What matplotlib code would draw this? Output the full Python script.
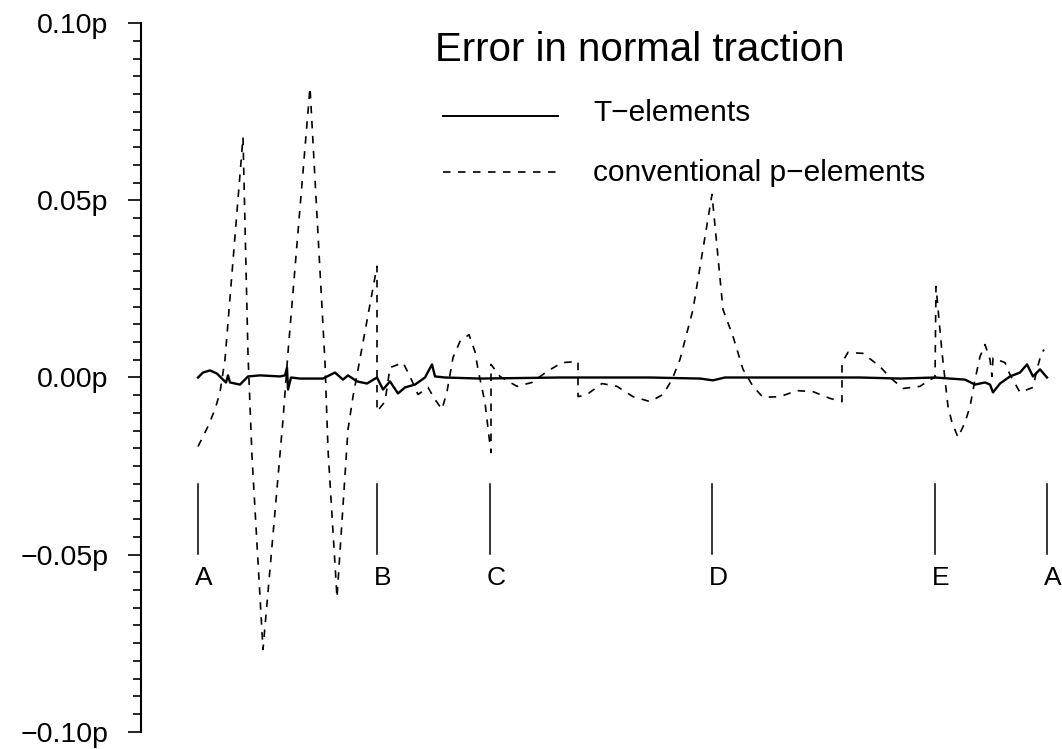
import numpy as np
import matplotlib.pyplot as plt
from matplotlib.ticker import MultipleLocator

plt.rcParams['font.family'] = ['Liberation Sans', 'DejaVu Sans']

# position along the boundary (arbitrary arc-length units, A = 0)
s_conv = [0.00, 0.10, 0.17, 0.22, 0.27, 0.45, 0.50, 0.54, 0.65, 0.85,
          0.90, 1.12, 1.27, 1.30, 1.39, 1.50, 1.55, 1.79, 1.79, 1.87,
          1.92, 2.05, 2.12, 2.20, 2.30, 2.37, 2.44, 2.49, 2.55, 2.62,
          2.71, 2.77, 2.80, 2.87, 2.91, 2.93, 2.93, 3.02, 3.19, 3.34,
          3.49, 3.64, 3.80, 3.80, 3.89, 4.04, 4.19, 4.35, 4.52, 4.65,
          4.74, 4.82, 4.89, 4.95, 5.14, 5.25, 5.35, 5.45, 5.55, 5.65,
          5.82, 5.99, 6.15, 6.32, 6.44, 6.44, 6.50, 6.65, 6.82, 6.92,
          7.05, 7.22, 7.32, 7.37, 7.38, 7.44, 7.47, 7.50, 7.54, 7.60,
          7.67, 7.72, 7.77, 7.82, 7.87, 7.92, 7.94, 7.95, 8.07, 8.12,
          8.22, 8.35, 8.39, 8.43, 8.46]
err_conv = [-0.0195, -0.0138, -0.0090, -0.0042, 0.0051, 0.0678, 0.0065, -0.0223, -0.0768, -0.0119,
            0.0071, 0.0819, 0.0042, -0.0203, -0.0621, -0.0147, -0.0054, 0.0314, -0.0096, -0.0068,
            0.0028, 0.0042, 0.0003, -0.0048, -0.0028, -0.0062, -0.0090, -0.0040, 0.0056, 0.0102,
            0.0121, 0.0073, 0.0023, -0.0071, -0.0167, -0.0212, 0.0037, 0.0003, -0.0025, -0.0014,
            0.0017, 0.0042, 0.0045, -0.0054, -0.0048, -0.0017, -0.0025, -0.0054, -0.0068, -0.0048,
            -0.0006, 0.0051, 0.0127, 0.0192, 0.0517, 0.0192, 0.0116, 0.0023, -0.0025, -0.0056,
            -0.0054, -0.0037, -0.0040, -0.0059, -0.0068, 0.0042, 0.0071, 0.0068, 0.0031, 0.0000,
            -0.0031, -0.0025, -0.0006, 0.0000, 0.0257, 0.0071, -0.0006, -0.0082, -0.0127, -0.0169,
            -0.0127, -0.0082, -0.0006, 0.0059, 0.0093, 0.0051, 0.0003, 0.0055, 0.0042, 0.0008,
            -0.0042, -0.0028, 0.0023, 0.0065, 0.0079]

s_T = [0.00, 0.05, 0.12, 0.19, 0.25, 0.28, 0.30, 0.32, 0.37, 0.42,
       0.50, 0.62, 0.82, 0.87, 0.89, 0.90, 0.93, 1.02, 1.25, 1.37,
       1.45, 1.50, 1.59, 1.69, 1.79, 1.85, 1.92, 2.00, 2.07, 2.17,
       2.27, 2.34, 2.37, 2.47, 2.82, 3.62, 4.52, 5.02, 5.15, 5.27,
       6.02, 6.62, 7.02, 7.37, 7.67, 7.77, 7.87, 7.92, 7.95, 8.02,
       8.12, 8.22, 8.29, 8.35, 8.42, 8.49]
err_T = [0.0000, 0.0014, 0.0020, 0.0011, -0.0006, -0.0014, 0.0006, -0.0014, -0.0017, -0.0020,
         0.0003, 0.0006, 0.0003, 0.0006, 0.0028, -0.0034, 0.0000, -0.0003, -0.0003, 0.0014,
         -0.0006, 0.0006, -0.0011, -0.0017, 0.0000, -0.0034, -0.0011, -0.0045, -0.0028, -0.0020,
         0.0000, 0.0037, 0.0003, 0.0000, -0.0003, 0.0000, 0.0000, -0.0003, -0.0008, 0.0000,
         0.0000, 0.0000, -0.0003, 0.0000, -0.0006, -0.0020, -0.0014, -0.0020, -0.0042, -0.0017,
         0.0003, 0.0014, 0.0037, 0.0003, 0.0023, 0.0000]

corner_names = ['A', 'B', 'C', 'D', 'E', 'A']
corner_pos = [0.00, 1.79, 2.92, 5.14, 7.37, 8.49]

yticks = [-0.10, -0.05, 0.00, 0.05, 0.10]
ytick_labels = ['\u22120.10p', '\u22120.05p', '0.00p', '0.05p', '0.10p']

fig = plt.figure(figsize=(10.62, 7.49), dpi=100)
ax = fig.add_axes([141 / 1062, 17.3 / 749, 921 / 1062, 708.4 / 749])

ax.plot(s_T, err_T, color='black', lw=1.7)
ax.plot(s_conv, err_conv, color='black', lw=1.2, dashes=(4.5, 4.5))

# corner markers
for name, s in zip(corner_names, corner_pos):
    ax.plot([s, s], [-0.030, -0.0497], color='black', lw=1.1)
    ax.text(s - 0.03, -0.0565, name, fontsize=19, ha='left', va='center', clip_on=False)

# title and legend drawn inside the plot
ax.text(2.37, 0.0893, 'Error in normal traction', fontsize=29, ha='left', va='baseline')
ax.plot([2.45, 3.60], [0.0737, 0.0737], color='black', lw=1.4)
ax.text(3.95, 0.0723, 'T\u2212elements', fontsize=21.5, ha='left', va='baseline')
ax.plot([2.45, 3.60], [0.0579, 0.0579], color='black', lw=1.2, dashes=(4.5, 4.5))
ax.text(3.95, 0.0556, 'conventional p\u2212elements', fontsize=21.5, ha='left', va='baseline')

ax.set_xlim(-0.57, 8.64)
ax.set_ylim(-0.10, 0.10)
ax.set_yticks(yticks)
ax.set_yticklabels(ytick_labels)
ax.yaxis.set_minor_locator(MultipleLocator(0.005))
ax.tick_params(axis='y', which='major', length=9.5, width=1.2, labelsize=20.5, pad=14)
ax.tick_params(axis='y', which='minor', length=6, width=1.2)
ax.set_xticks([])
for side in ['top', 'right', 'bottom']:
    ax.spines[side].set_visible(False)
ax.spines['left'].set_linewidth(1.5)

fig.savefig('out.png', dpi=100)
